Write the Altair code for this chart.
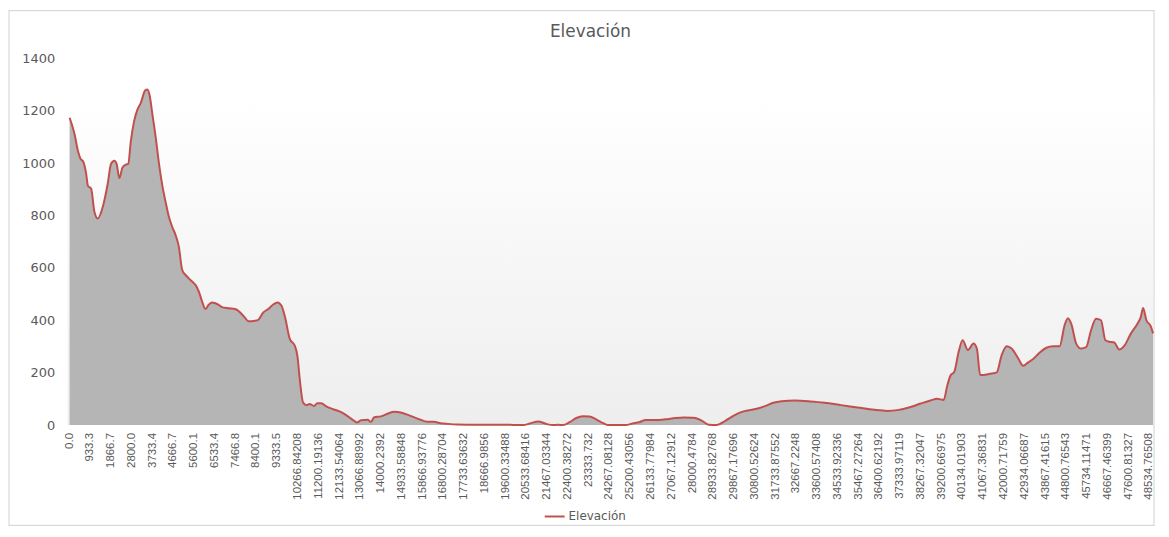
import altair as alt
import pandas as pd

# distance (m) and elevation (m)
dist = [0, 223, 372, 476, 625, 744, 819, 967, 1116, 1265, 1488, 1712, 1860, 2009, 2113,
        2233, 2381, 2530, 2634, 2753, 2902, 3051, 3200, 3393, 3497, 3602, 3721, 3870,
        4018, 4167, 4316, 4465, 4614, 4763, 4911, 5060, 5209, 5358, 5507, 5656, 5805,
        5953, 6102, 6251, 6400, 6549, 6698, 6846, 7144, 7442, 7665, 7888, 8037, 8335,
        8484, 8707, 8930, 9153, 9346, 9525, 9674, 9897, 10120, 10240, 10344, 10493,
        10641, 10790, 10984, 11133, 11312, 11535, 11832, 12130, 12428, 12725, 12919,
        13097, 13395, 13544, 13693, 13990, 14288, 14586, 14883, 15181, 15479, 15776,
        16074, 16372, 16669, 16818, 17414, 18307, 19200, 19794, 20093, 20391, 20688,
        21060, 21432, 21730, 21953, 22177, 22474, 22772, 23070, 23366, 23665, 23963,
        24186, 24558, 25004, 25302, 25600, 25897, 26344, 26790, 27237, 27609, 27981,
        28130, 28428, 28725, 29098, 29469, 29916, 30288, 30884, 31255, 31627, 32000,
        32595, 33340, 33934, 34680, 35422, 36167, 36760, 37207, 37804, 38252, 38698,
        38995, 39292, 39441, 39591, 39769, 39962, 40141, 40378, 40632, 40780, 40930,
        41226, 41450, 41672, 41896, 42119, 42342, 42641, 42864, 43087, 43311, 43609,
        43906, 44204, 44501, 44724, 44873, 45022, 45245, 45468, 45691, 45914, 46138,
        46361, 46555, 46734, 46957, 47180, 47404, 47702, 47999, 48148, 48253, 48401,
        48595, 48700]
elev = [1173, 1110, 1047, 1019, 1003, 959, 914, 902, 813, 788, 832, 921, 997, 1009, 997,
        943, 984, 994, 997, 1085, 1161, 1205, 1230, 1277, 1281, 1256, 1186, 1098,
        997, 914, 851, 794, 756, 725, 680, 592, 573, 560, 548, 535, 510,
        472, 443, 459, 468, 465, 459, 450, 446, 443, 430, 409, 396, 398,
        402, 430, 443, 460, 468, 455, 415, 329, 303, 263, 175, 86,
        76, 80, 73, 83, 83, 71, 61, 52, 38, 20, 10,
        18, 20, 12, 30, 33, 43, 51, 48, 40, 30, 20,
        13, 13, 7, 6, 2, 1, 1, 1, 0, 0, 6,
        14, 4, 0, 1, 0, 11, 27, 34, 33, 22, 8,
        0, 0, 0, 6, 11, 19, 19, 22, 27, 29, 28,
        27, 16, 1, 0, 16, 39, 52, 62, 72, 85, 91,
        94, 90, 85, 76, 67, 58, 54, 57, 69, 82, 94,
        100, 96, 147, 188, 204, 280, 324, 286, 311, 292, 191,
        193, 197, 201, 267, 301, 292, 254, 226, 239, 252, 277,
        295, 301, 301, 381, 408, 387, 311, 292, 297, 362, 406,
        400, 324, 318, 315, 288, 302, 349, 387, 412, 447, 400,
        378, 350]

x_labels = ["0.0", "933.3", "1866.7", "2800.0", "3733.4", "4666.7", "5600.1", "6533.4",
            "7466.8", "8400.1", "9333.5", "10266.84208", "11200.19136", "12133.54064",
            "13066.88992", "14000.2392", "14933.58848", "15866.93776", "16800.28704",
            "17733.63632", "18666.9856", "19600.33488", "20533.68416", "21467.03344",
            "22400.38272", "23333.732", "24267.08128", "25200.43056", "26133.77984",
            "27067.12912", "28000.4784", "28933.82768", "29867.17696", "30800.52624",
            "31733.87552", "32667.2248", "33600.57408", "34533.92336", "35467.27264",
            "36400.62192", "37333.97119", "38267.32047", "39200.66975", "40134.01903",
            "41067.36831", "42000.71759", "42934.06687", "43867.41615", "44800.76543",
            "45734.11471", "46667.46399", "47600.81327", "48534.76508"]
y_ticks = [0, 200, 400, 600, 800, 1000, 1200, 1400]
series_name = "Elevación"
chart_title = "Elevación"

df = pd.DataFrame({"dist": dist, "elev": elev})
lab_df = pd.DataFrame({"dist": [float(s) for s in x_labels], "label": x_labels})

W, H = 1090, 369
GRAY = "#595959"
RED = "#c0504d"

xenc = alt.X("dist:Q",
             scale=alt.Scale(domain=[0, max(dist)], nice=False, zero=False),
             axis=None)
yenc = alt.Y("elev:Q",
             scale=alt.Scale(domain=[0, 1400], nice=False),
             axis=alt.Axis(values=y_ticks, format="d", domain=False, ticks=False, grid=False,
                           title=None, labelPadding=15, labelFontSize=13,
                           labelFont="DejaVu Sans", labelColor=GRAY))

one = alt.Data(values=[{"name": series_name, "title": chart_title}])

border = alt.Chart(one).mark_rect(fill=None, stroke="#d9d9d9", strokeWidth=1.2).encode(
    x=alt.value(-61), x2=alt.value(W + 1), y=alt.value(-48), y2=alt.value(470))

bg = alt.Chart(one).mark_rect(
    color=alt.Gradient(gradient="linear", x1=0, x2=0, y1=0, y2=1,
                       stops=[alt.GradientStop(color="#ffffff", offset=0),
                              alt.GradientStop(color="#eeeeee", offset=1)])
).encode(x=alt.value(-2), x2=alt.value(W), y=alt.value(41), y2=alt.value(H))

area = alt.Chart(df).mark_area(interpolate="monotone", color="#b5b5b5").encode(x=xenc, y=yenc)
line = alt.Chart(df).mark_line(interpolate="monotone", color=RED, strokeWidth=2).encode(
    x="dist:Q", y="elev:Q")

xlabels = alt.Chart(lab_df).mark_text(angle=270, align="right", baseline="middle",
                                      fontSize=11.5, font="Liberation Sans",
                                      color=GRAY).encode(
    x="dist:Q", y=alt.value(H + 8), text="label:N")

title = alt.Chart(one).mark_text(fontSize=17, color=GRAY, font="DejaVu Sans",
                                 align="center", baseline="middle").encode(
    x=alt.value(524), y=alt.value(-26), text="title:N")

leg_line = alt.Chart(one).mark_rule(color=RED, strokeWidth=2).encode(
    x=alt.value(478), x2=alt.value(498), y=alt.value(461))
leg_text = alt.Chart(one).mark_text(fontSize=12, color=GRAY, font="DejaVu Sans",
                                    align="left", baseline="middle").encode(
    x=alt.value(502), y=alt.value(461), text="name:N")

chart = alt.layer(border, bg, area, line, xlabels, title, leg_line, leg_text).properties(
    width=W, height=H,
    background="white",
    autosize=alt.AutoSizeParams(type="none"),
    padding={"left": 62, "top": 49, "right": 8, "bottom": 103},
).configure_view(stroke=None)

chart.save("out.html", embed_options={"renderer": "svg", "actions": False})
